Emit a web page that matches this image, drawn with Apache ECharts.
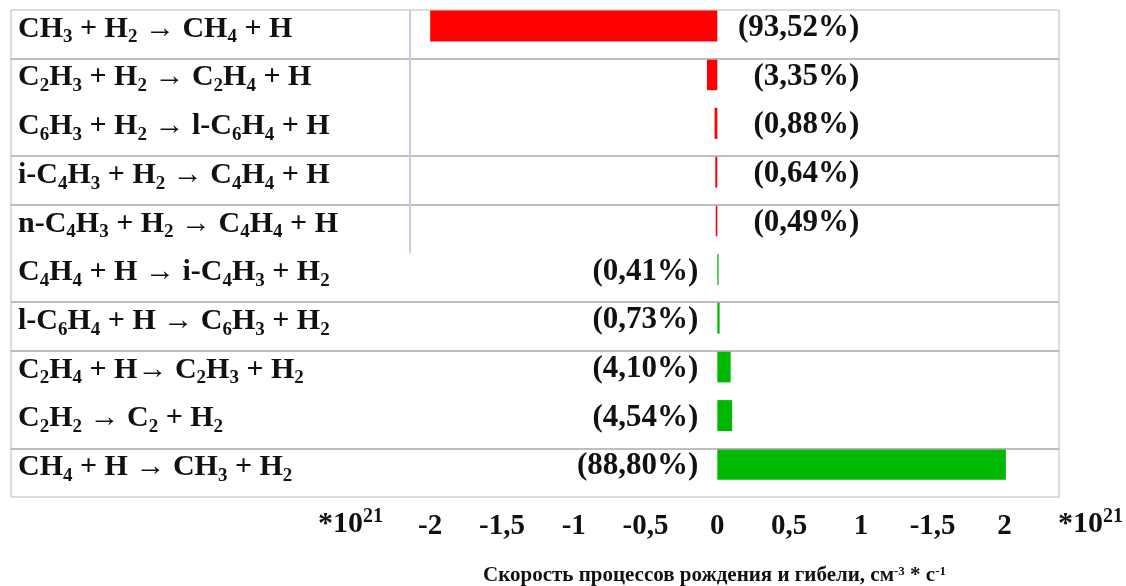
<!DOCTYPE html>
<html>
<head>
<meta charset="utf-8">
<script src="https://cdn.jsdelivr.net/npm/echarts@6/dist/echarts.min.js"></script>
<style>
  html, body { margin: 0; padding: 0; background: #fff; }
  #chart { width: 1126px; height: 586px; }
</style>
</head>
<body>
<div id="chart"></div>
<script>
// Reactions, top to bottom
const reactions = [
  'CH3 + H2 → CH4 + H',
  'C2H3 + H2 → C2H4 + H',
  'C6H3 + H2 → l-C6H4 + H',
  'i-C4H3 + H2 → C4H4 + H',
  'n-C4H3 + H2 → C4H4 + H',
  'C4H4 + H → i-C4H3 + H2',
  'l-C6H4 + H → C6H3 + H2',
  'C2H4 + H→ C2H3 + H2',
  'C2H2 → C2 + H2',
  'CH4 + H → CH3 + H2'
];
// Rates in units of 10^21 cm^-3 s^-1: consumption (negative) and production (positive)
const lossRates = [-2.00, -0.072, -0.019, -0.014, -0.011, null, null, null, null, null];
const gainRates = [null, null, null, null, null, 0.009, 0.016, 0.093, 0.103, 2.01];
// Share of each reaction in its process
const shares = ['93,52', '3,35', '0,88', '0,64', '0,49', '0,41', '0,73', '4,10', '4,54', '88,80'];
// Axis ticks
const tickValues = [-2, -1.5, -1, -0.5, 0, 0.5, 1, 1.5, 2];
const tickLabels = ['-2', '-1,5', '-1', '-0,5', '0', '0,5', '1', '-1,5', '2'];
// Total consumption rate marker and row separators
const lossTotal = -2.14;
const rowRules = [1, 3, 4, 6, 7, 9];

const X_MIN = -4.92, X_MAX = 2.38;
const FONT = '"Liberation Serif", "Times New Roman", serif';
const TEXT = '#111';

const chemRich = {
  m: { fontFamily: FONT, fontWeight: 'bold', fontSize: 30, color: TEXT },
  s: { fontFamily: FONT, fontWeight: 'bold', fontSize: 19, color: TEXT, padding: [17, 0, 0, 0] }
};
function chem(text) {
  return '{m|' + text.replace(/(\d+)/g, '}{s|$1}{m|') + '}';
}

const chart = echarts.init(document.getElementById('chart'), null, { renderer: 'canvas' });

const lossRows = reactions.map((r, i) => i).filter(i => lossRates[i] != null);
const gainRows = reactions.map((r, i) => i).filter(i => gainRates[i] != null);

function shareSeries(name, rows, offsetX) {
  return {
    name, type: 'scatter', xAxisIndex: 0, yAxisIndex: 0,
    symbol: 'rect', symbolSize: 0, itemStyle: { color: '#ffffff', opacity: 1 }, silent: true,
    z: 5,
    data: rows.map(i => [0, i]),
    label: {
      show: true, position: 'right', distance: 0, align: 'right', verticalAlign: 'middle',
      offset: [offsetX, 2], opacity: 1,
      fontFamily: FONT, fontWeight: 'bold', fontSize: 31, color: TEXT,
      formatter: p => '(' + shares[p.value[1]] + '%)'
    },
    emphasis: { disabled: true }
  };
}

const supRich = {
  m: { fontFamily: FONT, fontWeight: 'bold', fontSize: 30, fill: TEXT },
  p: { fontFamily: FONT, fontWeight: 'bold', fontSize: 20, fill: TEXT, padding: [0, 0, 15, 0] }
};

chart.setOption({
  animation: false,
  backgroundColor: '#fff',
  grid: [
    { left: 11, right: 67, top: 1.65, height: 487 },
    { left: 11, right: 67, top: 10, height: 487, show: true, borderColor: '#b8b8b8', borderWidth: 1, backgroundColor: 'transparent' }
  ],
  xAxis: [
    { gridIndex: 0, type: 'value', min: X_MIN, max: X_MAX, show: false },
    {
      gridIndex: 1, type: 'value', min: X_MIN, max: X_MAX,
      axisLine: { show: false }, axisTick: { show: false }, splitLine: { show: false },
      axisLabel: {
        customValues: tickValues,
        margin: 15,
        fontFamily: FONT, fontWeight: 'bold', fontSize: 29, color: TEXT,
        formatter: v => {
          const k = tickValues.findIndex(t => Math.abs(t - v) < 1e-9);
          return k >= 0 ? tickLabels[k] : '';
        }
      }
    }
  ],
  yAxis: [
    {
      gridIndex: 0, type: 'category', data: reactions, inverse: true,
      axisLine: { show: false }, axisTick: { show: false }, splitLine: { show: false },
      axisLabel: { inside: true, margin: 7, padding: [6, 0, 0, 0], formatter: chem, rich: chemRich }
    },
    { gridIndex: 1, type: 'value', min: 0, max: 10, inverse: true, show: false }
  ],
  series: [
    {
      name: 'loss', type: 'bar', xAxisIndex: 0, yAxisIndex: 0,
      data: lossRates, barWidth: 31, barGap: '-100%',
      itemStyle: { color: '#ff0000' }
    },
    {
      name: 'gain', type: 'bar', xAxisIndex: 0, yAxisIndex: 0,
      data: gainRates, barWidth: 31, barGap: '-100%',
      itemStyle: { color: '#00b800' }
    },
    shareSeries('lossShares', lossRows, 142),
    shareSeries('gainShares', gainRows, -19),
    {
      name: 'rules', type: 'scatter', xAxisIndex: 1, yAxisIndex: 1,
      symbolSize: 0, data: [[0, 0]], silent: true,
      markLine: {
        silent: true, symbol: ['none', 'none'], label: { show: false },
        lineStyle: { color: '#a8a8a8', width: 1.5, type: 'solid' },
        data: rowRules.map(v => ({ yAxis: v })).concat([
          [
            { coord: [lossTotal, 0], lineStyle: { color: '#c8c8e8', width: 2, type: 'solid' } },
            { coord: [lossTotal, 5] }
          ]
        ])
      }
    }
  ],
  graphic: [
    { type: 'text', left: 318, top: 507, style: { text: '{m|*10}{p|21}', rich: supRich } },
    { type: 'text', left: 1058, top: 507, style: { text: '{m|*10}{p|21}', rich: supRich } },
    {
      type: 'text', left: 483, top: 565,
      style: {
        text: '{m|Скорость процессов рождения и гибели, см}{p|-3}{m| * с}{p|-1}',
        rich: {
          m: { fontFamily: FONT, fontWeight: 'bold', fontSize: 21, fill: TEXT },
          p: { fontFamily: FONT, fontWeight: 'bold', fontSize: 13, fill: TEXT, padding: [0, 0, 9, 0] }
        }
      }
    }
  ]
});
</script>
</body>
</html>
